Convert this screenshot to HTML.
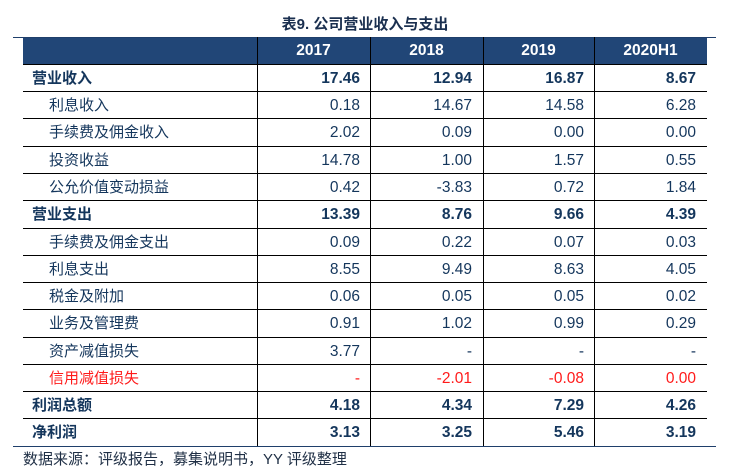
<!DOCTYPE html>
<html><head><meta charset="utf-8"><style>
html,body{margin:0;padding:0;background:#fff;}
body{width:740px;height:476px;position:relative;overflow:hidden;font-family:"Liberation Sans","Noto Sans CJK SC",sans-serif;color:#14365c;}
.title{position:absolute;left:0;width:730px;top:14px;text-align:center;font-weight:bold;font-size:15px;color:#1a2f4f;line-height:22px;}
.hdr{position:absolute;left:23px;top:37px;width:684px;height:27px;background:#214677;}
.hl{position:absolute;left:23px;width:684px;height:1px;background:#000;}
.vl{position:absolute;top:37px;width:1px;height:409px;background:#000;}
.bl{position:absolute;left:13px;width:703px;height:1px;background:#1f3f6b;}
.ht{position:absolute;top:37px;height:27px;line-height:27px;text-align:center;color:#fff;font-weight:bold;font-size:15.5px;}
.row{position:absolute;left:0;width:740px;height:27px;line-height:27px;font-size:15px;}
.lab{position:absolute;left:49px;top:0;white-space:nowrap;}
.lab.b{left:32px;font-weight:bold;}
.n{position:absolute;top:0;text-align:right;font-size:15.5px;}
.row.b .n{font-weight:bold;}
.red{color:#ff1a1a;}
.src{position:absolute;left:23px;top:449px;font-size:15px;line-height:22px;color:#1f2f45;white-space:nowrap;}
</style></head><body>
<div class="title">表9. 公司营业收入与支出</div>
<div class="hdr"></div>
<div class="ht" style="left:257px;width:113px;">2017</div>
<div class="ht" style="left:370px;width:113px;">2018</div>
<div class="ht" style="left:483px;width:111px;">2019</div>
<div class="ht" style="left:594px;width:113px;">2020H1</div>
<div class="bl" style="top:37px;"></div>
<div class="bl" style="top:446px;"></div>
<div class="hl" style="top:64px;"></div>
<div class="hl" style="top:91px;"></div>
<div class="hl" style="top:118px;"></div>
<div class="hl" style="top:146px;"></div>
<div class="hl" style="top:173px;"></div>
<div class="hl" style="top:200px;"></div>
<div class="hl" style="top:228px;"></div>
<div class="hl" style="top:255px;"></div>
<div class="hl" style="top:282px;"></div>
<div class="hl" style="top:309px;"></div>
<div class="hl" style="top:337px;"></div>
<div class="hl" style="top:364px;"></div>
<div class="hl" style="top:391px;"></div>
<div class="hl" style="top:418px;"></div>
<div class="vl" style="left:257px;"></div>
<div class="vl" style="left:370px;"></div>
<div class="vl" style="left:483px;"></div>
<div class="vl" style="left:594px;"></div>

<div class="row b" style="top:65px;"><span class="lab b">营业收入</span><span class="n" style="left:257px;width:103px;">17.46</span><span class="n" style="left:370px;width:102px;">12.94</span><span class="n" style="left:483px;width:101px;">16.87</span><span class="n" style="left:594px;width:102px;">8.67</span></div>
<div class="row" style="top:92px;"><span class="lab">利息收入</span><span class="n" style="left:257px;width:103px;">0.18</span><span class="n" style="left:370px;width:102px;">14.67</span><span class="n" style="left:483px;width:101px;">14.58</span><span class="n" style="left:594px;width:102px;">6.28</span></div>
<div class="row" style="top:119px;"><span class="lab">手续费及佣金收入</span><span class="n" style="left:257px;width:103px;">2.02</span><span class="n" style="left:370px;width:102px;">0.09</span><span class="n" style="left:483px;width:101px;">0.00</span><span class="n" style="left:594px;width:102px;">0.00</span></div>
<div class="row" style="top:147px;"><span class="lab">投资收益</span><span class="n" style="left:257px;width:103px;">14.78</span><span class="n" style="left:370px;width:102px;">1.00</span><span class="n" style="left:483px;width:101px;">1.57</span><span class="n" style="left:594px;width:102px;">0.55</span></div>
<div class="row" style="top:174px;"><span class="lab">公允价值变动损益</span><span class="n" style="left:257px;width:103px;">0.42</span><span class="n" style="left:370px;width:102px;">-3.83</span><span class="n" style="left:483px;width:101px;">0.72</span><span class="n" style="left:594px;width:102px;">1.84</span></div>
<div class="row b" style="top:201px;"><span class="lab b">营业支出</span><span class="n" style="left:257px;width:103px;">13.39</span><span class="n" style="left:370px;width:102px;">8.76</span><span class="n" style="left:483px;width:101px;">9.66</span><span class="n" style="left:594px;width:102px;">4.39</span></div>
<div class="row" style="top:229px;"><span class="lab">手续费及佣金支出</span><span class="n" style="left:257px;width:103px;">0.09</span><span class="n" style="left:370px;width:102px;">0.22</span><span class="n" style="left:483px;width:101px;">0.07</span><span class="n" style="left:594px;width:102px;">0.03</span></div>
<div class="row" style="top:256px;"><span class="lab">利息支出</span><span class="n" style="left:257px;width:103px;">8.55</span><span class="n" style="left:370px;width:102px;">9.49</span><span class="n" style="left:483px;width:101px;">8.63</span><span class="n" style="left:594px;width:102px;">4.05</span></div>
<div class="row" style="top:283px;"><span class="lab">税金及附加</span><span class="n" style="left:257px;width:103px;">0.06</span><span class="n" style="left:370px;width:102px;">0.05</span><span class="n" style="left:483px;width:101px;">0.05</span><span class="n" style="left:594px;width:102px;">0.02</span></div>
<div class="row" style="top:310px;"><span class="lab">业务及管理费</span><span class="n" style="left:257px;width:103px;">0.91</span><span class="n" style="left:370px;width:102px;">1.02</span><span class="n" style="left:483px;width:101px;">0.99</span><span class="n" style="left:594px;width:102px;">0.29</span></div>
<div class="row" style="top:338px;"><span class="lab">资产减值损失</span><span class="n" style="left:257px;width:103px;">3.77</span><span class="n" style="left:370px;width:102px;">-</span><span class="n" style="left:483px;width:101px;">-</span><span class="n" style="left:594px;width:102px;">-</span></div>
<div class="row red" style="top:365px;"><span class="lab">信用减值损失</span><span class="n" style="left:257px;width:103px;">-</span><span class="n" style="left:370px;width:102px;">-2.01</span><span class="n" style="left:483px;width:101px;">-0.08</span><span class="n" style="left:594px;width:102px;">0.00</span></div>
<div class="row b" style="top:392px;"><span class="lab b">利润总额</span><span class="n" style="left:257px;width:103px;">4.18</span><span class="n" style="left:370px;width:102px;">4.34</span><span class="n" style="left:483px;width:101px;">7.29</span><span class="n" style="left:594px;width:102px;">4.26</span></div>
<div class="row b" style="top:419px;"><span class="lab b">净利润</span><span class="n" style="left:257px;width:103px;">3.13</span><span class="n" style="left:370px;width:102px;">3.25</span><span class="n" style="left:483px;width:101px;">5.46</span><span class="n" style="left:594px;width:102px;">3.19</span></div>

<div class="src">数据来源：评级报告，募集说明书，YY 评级整理</div>
</body></html>
